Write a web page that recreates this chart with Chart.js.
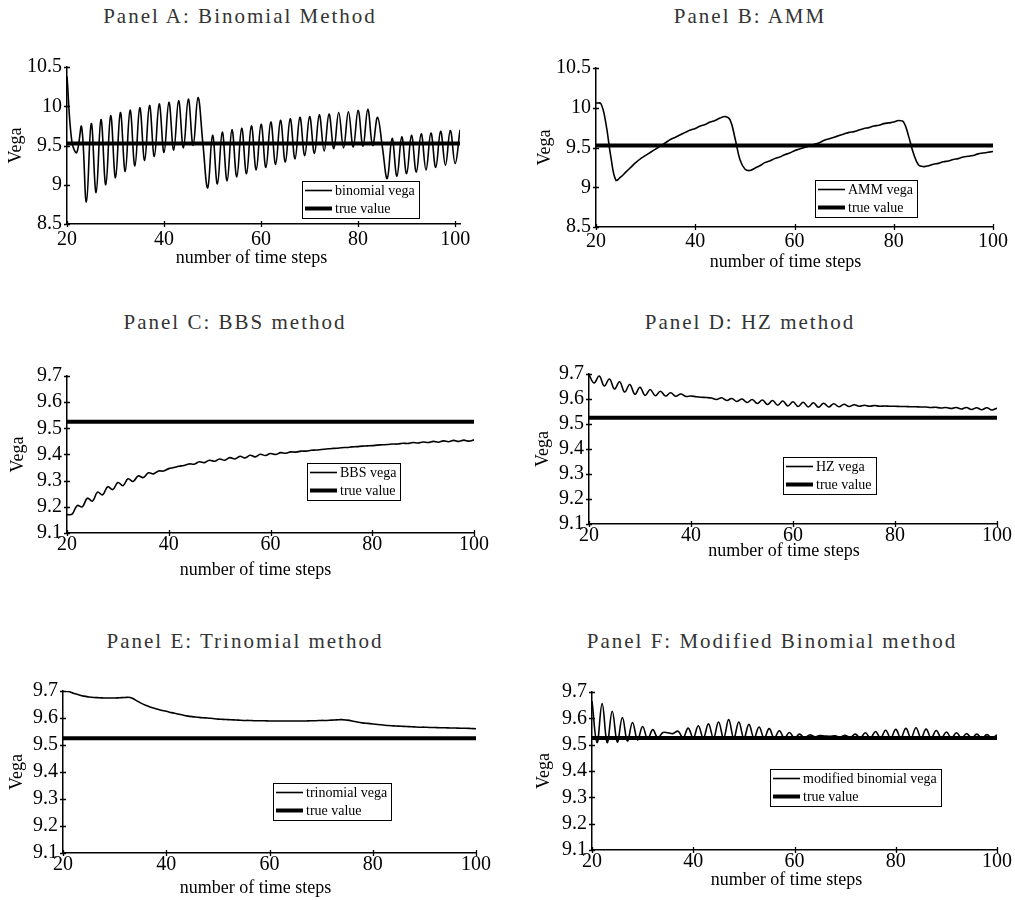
<!DOCTYPE html>
<html>
<head>
<meta charset="utf-8">
<script src="https://cdn.jsdelivr.net/npm/chart.js@4.4.0/dist/chart.umd.min.js"></script>
<style>
  body { margin: 0; background: #fff; }
  #pagina { position: relative; width: 1015px; height: 900px; overflow: hidden; background: #fff; }
  .titulo { position: absolute; width: 500px; text-align: center; font-family: 'Liberation Serif', serif;
            font-size: 21px; line-height: 21px; letter-spacing: 2px; color: #333; white-space: nowrap; }
  canvas { position: absolute; }
</style>
</head>
<body>
<div id="pagina"></div>
<script>
// pasos de tiempo (eje x)
const pasos = [20, 21, 22, 23, 24, 25, 26, 27, 28, 29, 30, 31, 32, 33, 34, 35, 36, 37, 38, 39,
  40, 41, 42, 43, 44, 45, 46, 47, 48, 49, 50, 51, 52, 53, 54, 55, 56, 57, 58, 59,
  60, 61, 62, 63, 64, 65, 66, 67, 68, 69, 70, 71, 72, 73, 74, 75, 76, 77, 78, 79,
  80, 81, 82, 83, 84, 85, 86, 87, 88, 89, 90, 91, 92, 93, 94, 95, 96, 97, 98, 99, 100];
const pasosA = pasos.concat([101]);

const ticksX = [20, 40, 60, 80, 100];
const ticksYAB = [10.5, 10, 9.5, 9, 8.5];
const ticksYCF = [9.7, 9.6, 9.5, 9.4, 9.3, 9.2, 9.1];

const valorVerdadero = 9.525;

const vegaBinomial = [10.38, 9.55, 9.41, 9.74, 8.78, 9.78, 8.90, 9.83, 9.00, 9.88,
  9.09, 9.92, 9.17, 9.95, 9.24, 9.98, 9.31, 10.01, 9.36, 10.03,
  9.41, 10.05, 9.44, 10.07, 9.47, 10.09, 9.50, 10.11, 9.53, 8.96,
  9.63, 9.01, 9.67, 9.05, 9.70, 9.10, 9.72, 9.14, 9.75, 9.19,
  9.77, 9.22, 9.80, 9.26, 9.82, 9.29, 9.84, 9.33, 9.86, 9.37,
  9.87, 9.40, 9.89, 9.43, 9.90, 9.46, 9.92, 9.47, 9.93, 9.48,
  9.95, 9.49, 9.96, 9.50, 9.86, 9.48, 9.08, 9.59, 9.11, 9.61,
  9.14, 9.63, 9.16, 9.65, 9.19, 9.66, 9.22, 9.68, 9.25, 9.69, 9.27, 9.70];

const vegaAMM = [10.06, 10.05, 9.80, 9.38, 9.09, 9.13, 9.19, 9.25, 9.31, 9.36,
  9.40, 9.44, 9.48, 9.52, 9.56, 9.60, 9.63, 9.66, 9.69, 9.72,
  9.74, 9.77, 9.79, 9.82, 9.84, 9.87, 9.89, 9.85, 9.62, 9.35,
  9.23, 9.21, 9.24, 9.27, 9.31, 9.33, 9.36, 9.38, 9.41, 9.43,
  9.46, 9.48, 9.50, 9.52, 9.54, 9.56, 9.59, 9.61, 9.63, 9.65,
  9.67, 9.69, 9.70, 9.72, 9.74, 9.75, 9.77, 9.78, 9.80, 9.81,
  9.82, 9.84, 9.82, 9.64, 9.42, 9.28, 9.26, 9.27, 9.29, 9.30,
  9.32, 9.33, 9.35, 9.36, 9.38, 9.39, 9.40, 9.42, 9.43, 9.44, 9.45];

const vegaBBS = [9.170, 9.172, 9.205, 9.200, 9.233, 9.222, 9.256, 9.246, 9.277, 9.266,
  9.293, 9.281, 9.307, 9.297, 9.318, 9.312, 9.330, 9.326, 9.337, 9.337,
  9.346, 9.350, 9.355, 9.358, 9.364, 9.363, 9.372, 9.369, 9.378, 9.374,
  9.383, 9.378, 9.388, 9.383, 9.393, 9.387, 9.397, 9.391, 9.401, 9.396,
  9.404, 9.400, 9.407, 9.405, 9.410, 9.409, 9.413, 9.413, 9.416, 9.417,
  9.419, 9.421, 9.423, 9.424, 9.426, 9.427, 9.429, 9.430, 9.432, 9.433,
  9.434, 9.436, 9.437, 9.438, 9.440, 9.440, 9.443, 9.442, 9.446, 9.444,
  9.448, 9.446, 9.450, 9.447, 9.452, 9.449, 9.454, 9.450, 9.455, 9.451, 9.456];

const vegaHZ = [9.697, 9.664, 9.692, 9.652, 9.680, 9.640, 9.669, 9.628, 9.658, 9.619,
  9.647, 9.614, 9.638, 9.613, 9.631, 9.612, 9.625, 9.611, 9.620, 9.610,
  9.612, 9.609, 9.607, 9.606, 9.604, 9.598, 9.605, 9.594, 9.602, 9.590,
  9.600, 9.586, 9.598, 9.582, 9.596, 9.578, 9.594, 9.575, 9.592, 9.572,
  9.589, 9.570, 9.587, 9.568, 9.585, 9.567, 9.583, 9.568, 9.581, 9.569,
  9.579, 9.570, 9.577, 9.571, 9.575, 9.571, 9.574, 9.571, 9.572, 9.571,
  9.571, 9.570, 9.570, 9.569, 9.569, 9.568, 9.568, 9.566, 9.567, 9.564,
  9.566, 9.562, 9.566, 9.560, 9.566, 9.558, 9.565, 9.557, 9.565, 9.556, 9.563];

const vegaTrinomial = [9.700, 9.698, 9.692, 9.686, 9.681, 9.678, 9.676, 9.675, 9.674, 9.674,
  9.674, 9.675, 9.676, 9.676, 9.667, 9.656, 9.647, 9.640, 9.634, 9.629,
  9.625, 9.620, 9.616, 9.612, 9.608, 9.605, 9.603, 9.601, 9.600, 9.598,
  9.596, 9.595, 9.594, 9.593, 9.592, 9.591, 9.591, 9.590, 9.590, 9.590,
  9.589, 9.589, 9.589, 9.589, 9.589, 9.589, 9.589, 9.589, 9.590, 9.590,
  9.591, 9.591, 9.592, 9.593, 9.594, 9.592, 9.589, 9.585, 9.582, 9.580,
  9.578, 9.576, 9.574, 9.572, 9.571, 9.570, 9.569, 9.568, 9.567, 9.566,
  9.566, 9.565, 9.565, 9.564, 9.564, 9.563, 9.563, 9.562, 9.562, 9.561, 9.560];

const vegaModificado = [9.665, 9.508, 9.656, 9.508, 9.627, 9.510, 9.603, 9.514, 9.584, 9.518,
  9.569, 9.521, 9.557, 9.526, 9.546, 9.545, 9.542, 9.551, 9.526, 9.563,
  9.525, 9.572, 9.525, 9.579, 9.525, 9.586, 9.525, 9.595, 9.525, 9.586,
  9.525, 9.577, 9.525, 9.567, 9.525, 9.561, 9.525, 9.553, 9.525, 9.546,
  9.525, 9.540, 9.526, 9.537, 9.530, 9.535, 9.533, 9.532, 9.534, 9.529,
  9.536, 9.527, 9.540, 9.526, 9.545, 9.525, 9.550, 9.525, 9.555, 9.525,
  9.558, 9.525, 9.562, 9.525, 9.564, 9.525, 9.559, 9.525, 9.554, 9.525,
  9.548, 9.525, 9.545, 9.525, 9.542, 9.525, 9.540, 9.525, 9.538, 9.526, 9.537];

const fuente = 'Liberation Serif';

// marcas de los ejes que cruzan la linea del eje
const marcasPlugin = {
  id: 'marcas',
  afterDraw(chart) {
    const { ctx, scales: { x, y } } = chart;
    ctx.save();
    ctx.strokeStyle = '#000';
    ctx.lineWidth = 1.3;
    ctx.beginPath();
    x.ticks.forEach(t => {
      const px = Math.round(x.getPixelForValue(t.value)) + 0.5;
      ctx.moveTo(px, y.bottom - 3);
      ctx.lineTo(px, y.bottom + 3);
    });
    y.ticks.forEach(t => {
      const py = Math.round(y.getPixelForValue(t.value)) + 0.5;
      ctx.moveTo(x.left - 3, py);
      ctx.lineTo(x.left + 3, py);
    });
    ctx.stroke();
    ctx.restore();
  }
};

// titulo del eje x, algo corrido a la izquierda como en el original
const tituloXPlugin = {
  id: 'tituloX',
  afterDraw(chart, args, opts) {
    const { ctx, chartArea } = chart;
    ctx.save();
    ctx.font = '18px "' + fuente + '"';
    ctx.fillStyle = '#000';
    ctx.textAlign = 'center';
    ctx.textBaseline = 'middle';
    ctx.fillText(opts.text, (chartArea.left + chartArea.right) / 2 + opts.dx, chartArea.bottom + opts.dy);
    ctx.restore();
  }
};

// leyenda con recuadro dentro del area del grafico
const cuadroPlugin = {
  id: 'cuadro',
  afterDraw(chart, args, opts) {
    const { ctx, scales: { x, y } } = chart;
    const izq = Math.round(x.getPixelForValue(opts.x));
    const arriba = Math.round(y.getPixelForValue(opts.y));
    ctx.save();
    ctx.font = '14px "' + fuente + '"';
    const items = chart.data.datasets;
    const anchoTexto = Math.max(...items.map(d => ctx.measureText(d.label).width));
    const w = Math.round(33 + anchoTexto + 4), h = 37;
    ctx.fillStyle = '#fff';
    ctx.fillRect(izq, arriba, w, h);
    ctx.strokeStyle = '#000';
    ctx.lineWidth = 1;
    ctx.strokeRect(izq + 0.5, arriba + 0.5, w, h);
    items.forEach((d, k) => {
      const cy = arriba + 9.5 + k * 18;
      ctx.beginPath();
      ctx.lineWidth = d.borderWidth;
      ctx.moveTo(izq + 3, cy);
      ctx.lineTo(izq + 30, cy);
      ctx.stroke();
      ctx.fillStyle = '#000';
      ctx.textBaseline = 'middle';
      ctx.fillText(d.label, izq + 33, cy + 1);
    });
    ctx.restore();
  }
};

const paneles = [
  { titulo: 'Panel A: Binomial Method', tx: 240, ty: 6, caja: [0, 40, 505, 240], padT: 27, padR: 45, yW: 67, xH: 56,
    yTit: 5.2, xDx: -12, xDy: 34, xPad: 4, xMax: 101, ticksY: ticksYAB, pasos: pasosA, valores: vegaBinomial,
    etiqueta: 'binomial vega', leyenda: { x: 68.45, y: 9.052 } },
  { titulo: 'Panel B: AMM', tx: 750, ty: 6, caja: [520, 40, 495, 240], padT: 28, padR: 22, yW: 76, xH: 53,
    yTit: 14.2, xDx: -9, xDy: 35, xPad: 3, xMax: 100, ticksY: ticksYAB, pasos: pasos, valores: vegaAMM,
    etiqueta: 'AMM vega', leyenda: { x: 64.1, y: 9.097 } },
  { titulo: 'Panel C: BBS method', tx: 235, ty: 312, caja: [0, 345, 505, 240], padT: 31, padR: 31, yW: 67, xH: 52,
    yTit: 7.2, xDx: -15, xDy: 37, xPad: 0, xMax: 100, ticksY: ticksYCF, pasos: pasos, valores: vegaBBS,
    etiqueta: 'BBS vega', leyenda: { x: 67.2, y: 9.366 } },
  { titulo: 'Panel D: HZ method', tx: 750, ty: 312, caja: [520, 345, 495, 225], padT: 29, padR: 18, yW: 69, xH: 46,
    yTit: 12.5, xDx: -9, xDy: 27, xPad: 0, xMax: 100, ticksY: ticksYCF, pasos: pasos, valores: vegaHZ,
    etiqueta: 'HZ vega', leyenda: { x: 58.0, y: 9.37 } },
  { titulo: 'Panel E: Trinomial method', tx: 245, ty: 631, caja: [0, 660, 505, 240], padT: 31, padR: 29, yW: 63, xH: 47,
    yTit: 6.2, xDx: -14, xDy: 35, xPad: 0, xMax: 100, ticksY: ticksYCF, pasos: pasos, valores: vegaTrinomial,
    etiqueta: 'trinomial vega', leyenda: { x: 60.7, y: 9.361 } },
  { titulo: 'Panel F: Modified Binomial method', tx: 772, ty: 631, caja: [520, 660, 495, 240], padT: 32, padR: 18, yW: 72, xH: 50,
    yTit: 13.5, xDx: -8, xDy: 30, xPad: 0, xMax: 100, ticksY: ticksYCF, pasos: pasos, valores: vegaModificado,
    etiqueta: 'modified binomial vega', leyenda: { x: 55.2, y: 9.406 } }
];

const pagina = document.getElementById('pagina');

function dibujarPanel(p) {
  const t = document.createElement('div');
  t.className = 'titulo';
  t.textContent = p.titulo;
  t.style.left = (p.tx - 250) + 'px';
  t.style.top = p.ty + 'px';
  pagina.appendChild(t);

  const lienzo = document.createElement('canvas');
  lienzo.width = p.caja[2];
  lienzo.height = p.caja[3];
  lienzo.style.left = p.caja[0] + 'px';
  lienzo.style.top = p.caja[1] + 'px';
  pagina.appendChild(lienzo);

  const ultimo = p.pasos[p.pasos.length - 1];

  new Chart(lienzo, {
    type: 'line',
    data: {
      datasets: [
        {
          label: p.etiqueta,
          data: p.pasos.map((s, i) => ({ x: s, y: p.valores[i] })),
          borderColor: '#000', borderWidth: 1.6, pointRadius: 0, tension: 0.4, fill: false, order: 1
        },
        {
          label: 'true value',
          data: [{ x: p.pasos[0], y: valorVerdadero }, { x: ultimo, y: valorVerdadero }],
          borderColor: '#000', borderWidth: 4, pointRadius: 0, fill: false, order: 0
        }
      ]
    },
    options: {
      responsive: false,
      animation: false,
      events: [],
      layout: { padding: { left: 0, top: p.padT, right: p.padR, bottom: 0 } },
      plugins: {
        legend: { display: false },
        tooltip: { enabled: false },
        cuadro: p.leyenda,
        tituloX: { text: 'number of time steps', dx: p.xDx, dy: p.xDy }
      },
      scales: {
        x: {
          type: 'linear', min: 20, max: p.xMax,
          grid: { display: false, drawTicks: false },
          border: { display: true, color: '#000', width: 1.5 },
          afterBuildTicks: s => { s.ticks = ticksX.map(v => ({ value: v })); },
          afterFit: s => { s.height = p.xH; },
          ticks: { color: '#000', font: { family: fuente, size: 20 }, padding: p.xPad, maxRotation: 0, autoSkip: false,
                   callback: v => String(v) }
        },
        y: {
          type: 'linear', min: p.ticksY[p.ticksY.length - 1], max: p.ticksY[0],
          grid: { display: false, drawTicks: false },
          border: { display: true, color: '#000', width: 1.5 },
          afterBuildTicks: s => { s.ticks = p.ticksY.map(v => ({ value: v })); },
          afterFit: s => { s.width = p.yW; },
          ticks: { color: '#000', font: { family: fuente, size: 20 }, padding: 5, autoSkip: false,
                   callback: v => String(v) },
          title: { display: true, text: 'Vega', color: '#000', font: { family: fuente, size: 18 },
                   padding: { top: p.yTit, bottom: 0 } }
        }
      }
    },
    plugins: [marcasPlugin, tituloXPlugin, cuadroPlugin]
  });
}

paneles.forEach(dibujarPanel);
</script>
</body>
</html>
